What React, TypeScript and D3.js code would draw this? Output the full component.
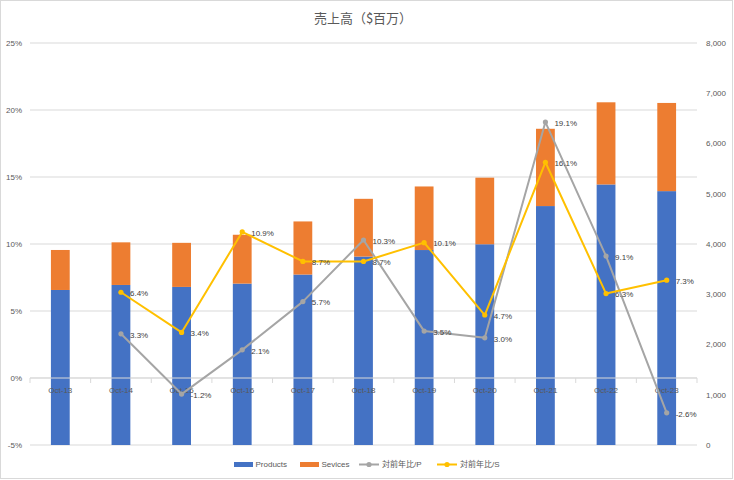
import React, { useEffect, useRef } from 'react';
import * as d3 from 'd3';

const categories = ['Oct-13', 'Oct-14', 'Oct-15', 'Oct-16', 'Oct-17', 'Oct-18', 'Oct-19', 'Oct-20', 'Oct-21', 'Oct-22', 'Oct-23'];
const products = [3085, 3185, 3146, 3212, 3392, 3750, 3880, 3995, 4755, 5185, 5052];
const services = [796, 848, 877, 972, 1057, 1149, 1265, 1325, 1538, 1635, 1755];
const yoyProducts: (number | null)[] = [null, 3.3, -1.2, 2.1, 5.7, 10.3, 3.5, 3.0, 19.1, 9.1, -2.6];
const yoyServices: (number | null)[] = [null, 6.4, 3.4, 10.9, 8.7, 8.7, 10.1, 4.7, 16.1, 6.3, 7.3];
const pctTicks = [-5, 0, 5, 10, 15, 20, 25];
const amountTicks = [0, 1000, 2000, 3000, 4000, 5000, 6000, 7000, 8000];

const FONT = "'Liberation Sans', Arial, 'Noto Sans CJK JP', sans-serif";
const TEXT = '#595959';
const GRID = '#D9D9D9';

const App: React.FC = () => {
  const svgRef = useRef<SVGSVGElement>(null);

  useEffect(() => {
    if (!svgRef.current) return;
    const svg = d3.select(svgRef.current);
    svg.selectAll('*').remove();

    const width = 734;
    const height = 480;
    const plot = { left: 30, right: 697, top: 43, bottom: 445 };

    const x = d3.scaleBand().domain(categories).range([plot.left, plot.right]).paddingInner(0.69).paddingOuter(0.345);
    const cx = (c: string) => (x(c) as number) + x.bandwidth() / 2;
    const yPct = d3.scaleLinear().domain([-5, 25]).range([plot.bottom, plot.top]);
    const yAmt = d3.scaleLinear().domain([0, 8000]).range([plot.bottom, plot.top]);

    // background + border
    svg.append('rect')
      .attr('x', 0.5).attr('y', 0.5)
      .attr('width', width - 2).attr('height', height - 2)
      .attr('fill', '#fff').attr('stroke', GRID);

    svg.append('text')
      .attr('x', 363).attr('y', 23)
      .attr('text-anchor', 'middle')
      .attr('font-family', "'Noto Sans CJK JP', sans-serif")
      .attr('font-size', 13)
      .attr('fill', TEXT)
      .text('売上高（$百万）');

    // gridlines (left axis)
    svg.append('g').selectAll('line')
      .data(pctTicks)
      .enter().append('line')
      .attr('x1', plot.left).attr('x2', plot.right)
      .attr('y1', d => yPct(d)).attr('y2', d => yPct(d))
      .attr('stroke', GRID).attr('stroke-width', 1);

    svg.append('g').selectAll('text')
      .data(pctTicks)
      .enter().append('text')
      .attr('x', 22).attr('y', d => yPct(d))
      .attr('dy', '0.35em')
      .attr('text-anchor', 'end')
      .attr('font-family', FONT).attr('font-size', 8).attr('fill', TEXT)
      .text(d => `${d}%`);

    svg.append('g').selectAll('text')
      .data(amountTicks)
      .enter().append('text')
      .attr('x', 706).attr('y', d => yAmt(d))
      .attr('dy', '0.35em')
      .attr('font-family', FONT).attr('font-size', 8).attr('fill', TEXT)
      .text(d => d3.format(',')(d));

    // stacked bars (right axis)
    const table = categories.map((c, i) => ({ cat: c, products: products[i], services: services[i] }));
    const stacked = d3.stack<any>().keys(['products', 'services'])(table);
    const barColors = ['#4472C4', '#ED7D31'];

    svg.append('g').selectAll('g')
      .data(stacked)
      .enter().append('g')
      .attr('fill', (_, i) => barColors[i])
      .selectAll('rect')
      .data(d => d)
      .enter().append('rect')
      .attr('x', d => x(d.data.cat) as number)
      .attr('width', x.bandwidth())
      .attr('y', d => yAmt(d[1]))
      .attr('height', d => yAmt(d[0]) - yAmt(d[1]));

    // category axis at 0%
    const axisY = yPct(0);
    svg.append('line')
      .attr('x1', plot.left).attr('x2', plot.right)
      .attr('y1', axisY).attr('y2', axisY)
      .attr('stroke', GRID);

    const step = x.step();
    svg.append('g').selectAll('line')
      .data(d3.range(categories.length + 1))
      .enter().append('line')
      .attr('x1', i => plot.left + i * step).attr('x2', i => plot.left + i * step)
      .attr('y1', axisY).attr('y2', axisY + 5)
      .attr('stroke', GRID);

    svg.append('g').selectAll('text')
      .data(categories)
      .enter().append('text')
      .attr('x', d => cx(d)).attr('y', axisY + 12)
      .attr('dy', '0.35em')
      .attr('text-anchor', 'middle')
      .attr('font-family', FONT).attr('font-size', 8).attr('fill', TEXT)
      .text(d => d);

    // growth lines (left axis)
    const series = [
      { values: yoyProducts, color: '#A5A5A5' },
      { values: yoyServices, color: '#FFC000' },
    ];

    const line = d3.line<[string, number | null]>()
      .defined(d => d[1] != null)
      .x(d => cx(d[0]))
      .y(d => yPct(d[1] as number));

    series.forEach(s => {
      const pts = categories.map((c, i) => [c, s.values[i]] as [string, number | null]);
      svg.append('path')
        .datum(pts)
        .attr('fill', 'none')
        .attr('stroke', s.color)
        .attr('stroke-width', 2)
        .attr('stroke-linejoin', 'round')
        .attr('d', line);

      const valid = pts.filter(p => p[1] != null);
      svg.append('g').selectAll('circle')
        .data(valid)
        .enter().append('circle')
        .attr('cx', d => cx(d[0]))
        .attr('cy', d => yPct(d[1] as number))
        .attr('r', 2.6)
        .attr('fill', s.color);
    });

    series.forEach(s => {
      const valid = categories.map((c, i) => [c, s.values[i]] as [string, number | null]).filter(p => p[1] != null);
      svg.append('g').selectAll('text')
        .data(valid)
        .enter().append('text')
        .attr('x', d => cx(d[0]) + 9)
        .attr('y', d => yPct(d[1] as number) + 1)
        .attr('dy', '0.35em')
        .attr('font-family', FONT).attr('font-size', 8).attr('fill', '#404040')
        .text(d => `${(d[1] as number).toFixed(1)}%`);
    });

    // legend
    const legendY = 464.5;
    const legend = svg.append('g').attr('font-family', FONT).attr('font-size', 8).attr('fill', TEXT);
    const barItems = [
      { label: 'Products', color: '#4472C4', x: 234 },
      { label: 'Sevices', color: '#ED7D31', x: 300 },
    ];
    barItems.forEach(it => {
      legend.append('rect')
        .attr('x', it.x).attr('y', legendY - 2.5)
        .attr('width', 19).attr('height', 5)
        .attr('fill', it.color);
      legend.append('text')
        .attr('x', it.x + 21.5).attr('y', legendY).attr('dy', '0.35em')
        .text(it.label);
    });
    const lineItems = [
      { label: '対前年比/P', color: '#A5A5A5', x: 359 },
      { label: '対前年比/S', color: '#FFC000', x: 437 },
    ];
    lineItems.forEach(it => {
      legend.append('line')
        .attr('x1', it.x).attr('x2', it.x + 20)
        .attr('y1', legendY).attr('y2', legendY)
        .attr('stroke', it.color).attr('stroke-width', 2);
      legend.append('circle')
        .attr('cx', it.x + 10).attr('cy', legendY).attr('r', 2.6)
        .attr('fill', it.color);
      legend.append('text')
        .attr('x', it.x + 23).attr('y', legendY).attr('dy', '0.35em')
        .text(it.label);
    });
  }, []);

  return (
    <div style={{ position: 'absolute', left: 0, top: 0 }}>
      <svg ref={svgRef} width={734} height={480} viewBox="0 0 734 480" style={{ display: 'block' }} />
    </div>
  );
};

export default App;
